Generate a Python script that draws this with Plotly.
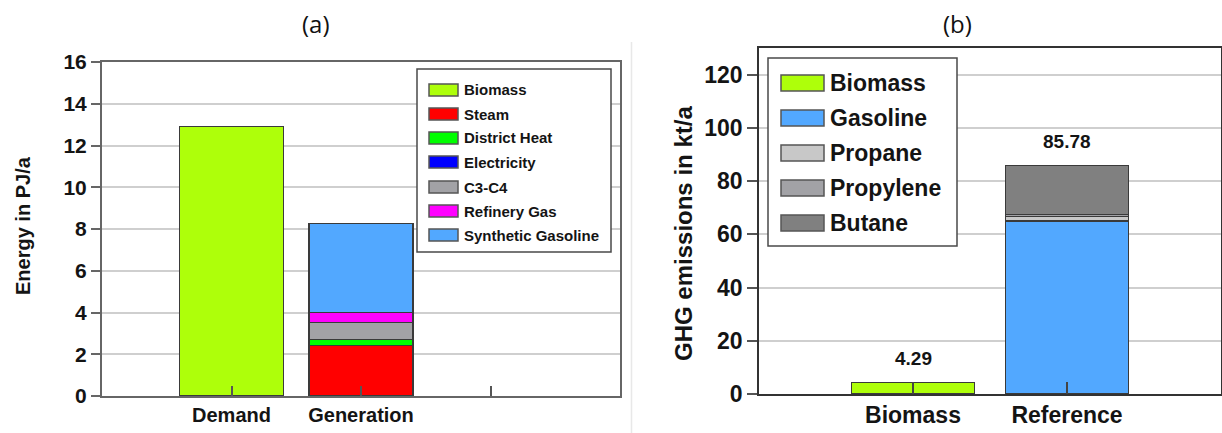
import plotly.graph_objects as go

W, H = 1222, 433

# ---- panel (a): energy balance in PJ/a ----
energy_categories = ["Demand", "Generation", "spare"]
energy_ticktext = ["Demand", "Generation", ""]
biomass_pj = [12.9, None, None]
steam_pj = [None, 2.43, None]
district_heat_pj = [None, 0.27, None]
electricity_pj = [None, 0.0, None]
c3c4_pj = [None, 0.82, None]
refinery_gas_pj = [None, 0.48, None]
synthetic_gasoline_pj = [None, 4.27, None]

energy_names = ["Biomass", "Steam", "District Heat", "Electricity", "C3-C4",
                "Refinery Gas", "Synthetic Gasoline"]
energy_values = [biomass_pj, steam_pj, district_heat_pj, electricity_pj,
                 c3c4_pj, refinery_gas_pj, synthetic_gasoline_pj]
energy_colors = ["#AEFF0A", "#FF0000", "#00FF00", "#0000FF", "#A2A2A6",
                 "#FF00FF", "#52A8FF"]

# ---- panel (b): GHG emissions in kt/a ----
ghg_categories = ["Biomass", "Reference"]
biomass_kt = [4.29, None]
gasoline_kt = [None, 65.0]
propane_kt = [None, 1.6]
propylene_kt = [None, 0.9]
butane_kt = [None, 18.28]

ghg_names = ["Biomass", "Gasoline", "Propane", "Propylene", "Butane"]
ghg_values = [biomass_kt, gasoline_kt, propane_kt, propylene_kt, butane_kt]
ghg_colors = ["#AEFF0A", "#52A8FF", "#C8C8C8", "#A2A2A6", "#808080"]

SANS = "Liberation Sans, Arial, sans-serif"
INK = "#141414"


def px(x):
    return x / W


def py(y):
    return 1 - y / H


fig = go.Figure()

for name, vals, col in zip(energy_names, energy_values, energy_colors):
    fig.add_trace(go.Bar(
        x=energy_categories, y=vals, name=name, showlegend=False,
        marker=dict(color=col, line=dict(color="#3a3a3a", width=1.5)),
        xaxis="x", yaxis="y", width=0.8,
    ))

for name, vals, col in zip(ghg_names, ghg_values, ghg_colors):
    fig.add_trace(go.Bar(
        x=ghg_categories, y=vals, name=name, showlegend=False,
        marker=dict(color=col, line=dict(color="#3a3a3a", width=1.5)),
        xaxis="x2", yaxis="y2", width=0.8,
    ))

shapes = []
annotations = []

# value labels on top of the emission bars
for i, cat in enumerate(ghg_categories):
    total = sum(v[i] for v in ghg_values if v[i] is not None)
    annotations.append(dict(
        x=cat, y=total, xref="x2", yref="y2", text=f"{total:.2f}",
        showarrow=False, yanchor="bottom", yshift=12,
        font=dict(family=SANS, size=19, color=INK, weight="bold"),
    ))


def build_legend(box, names, colors, rows, sw_x, sw_w, sw_h, text_x, font):
    x0, y0, x1, y1 = box
    shapes.append(dict(type="rect", xref="paper", yref="paper",
                       x0=px(x0), x1=px(x1), y0=py(y1), y1=py(y0),
                       line=dict(color="#4a4a4a", width=1.5),
                       fillcolor="white", layer="above"))
    for name, col, yc in zip(names, colors, rows):
        shapes.append(dict(type="rect", xref="paper", yref="paper",
                           x0=px(sw_x), x1=px(sw_x + sw_w),
                           y0=py(yc + sw_h / 2), y1=py(yc - sw_h / 2),
                           fillcolor=col, line=dict(color="#555555", width=1.5),
                           layer="above"))
        annotations.append(dict(
            x=px(text_x), y=py(yc), xref="paper", yref="paper", text=name,
            showarrow=False, xanchor="left", yanchor="middle", font=font,
        ))


build_legend((417, 69, 611, 252), energy_names, energy_colors,
             [90, 114, 138, 162, 187, 211, 235], 429, 29, 12, 462,
             dict(family=SANS, size=15, color=INK, weight="bold"))
build_legend((768, 58, 957, 246), ghg_names, ghg_colors,
             [83, 118, 153, 188, 223], 781, 43, 16, 828,
             dict(family=SANS, size=23, color=INK, weight="bold"))

# axis titles
annotations.append(dict(
    x=px(23), y=py(226), xref="paper", yref="paper", text="Energy in PJ/a",
    textangle=-90, showarrow=False, xanchor="center", yanchor="middle",
    font=dict(family=SANS, size=20, color=INK, weight="bold"),
))
annotations.append(dict(
    x=px(683), y=py(234), xref="paper", yref="paper", text="GHG emissions in kt/a",
    textangle=-90, showarrow=False, xanchor="center", yanchor="middle",
    font=dict(family=SANS, size=24, color=INK, weight="bold"),
))

# panel captions
for label, xc in (("(a)", 316), ("(b)", 957)):
    annotations.append(dict(
        x=px(xc), y=py(24), xref="paper", yref="paper", text=label,
        showarrow=False, xanchor="center", yanchor="middle",
        font=dict(family="Open Sans, sans-serif", size=24, color="#111111"),
    ))

# thin divider between the two panels
shapes.append(dict(type="line", xref="paper", yref="paper",
                   x0=px(631.5), x1=px(631.5), y0=0, y1=py(42),
                   line=dict(color="#e8e8e8", width=1.5)))

fig.update_layout(
    width=W, height=H,
    margin=dict(l=0, r=0, t=0, b=0, autoexpand=False),
    paper_bgcolor="white", plot_bgcolor="white",
    barmode="stack",
    showlegend=False,
    shapes=shapes,
    annotations=annotations,
    xaxis=dict(
        domain=[px(102), px(620)], anchor="y", automargin=False,
        type="category", categoryorder="array", categoryarray=energy_categories,
        range=[-1, 3], tickmode="array", tickvals=energy_categories,
        ticktext=energy_ticktext,
        showline=True, linecolor="#666666", linewidth=2, mirror=True,
        ticks="inside", ticklen=10, tickwidth=1.5, tickcolor="#555555",
        showgrid=False,
        tickfont=dict(family=SANS, size=20, color=INK, weight="bold"),
    ),
    yaxis=dict(
        domain=[py(396), py(62)], anchor="x", automargin=False,
        range=[0, 16], dtick=2,
        showline=True, linecolor="#666666", linewidth=2, mirror=True,
        ticks="outside", ticklen=9, tickwidth=1.5, tickcolor="#666666",
        showgrid=True, gridcolor="#CFCFCF", gridwidth=1.5, zeroline=False,
        tickfont=dict(family=SANS, size=21, color=INK, weight="bold"),
    ),
    xaxis2=dict(
        domain=[px(759), px(1221)], anchor="y2", automargin=False,
        type="category", categoryorder="array", categoryarray=ghg_categories,
        range=[-1, 2],
        showline=True, linecolor="#333333", linewidth=1.5, mirror=True,
        ticks="inside", ticklen=12, tickwidth=1.5, tickcolor="#444444",
        showgrid=False,
        tickfont=dict(family=SANS, size=23, color=INK, weight="bold"),
    ),
    yaxis2=dict(
        domain=[py(394), py(48)], anchor="x2", automargin=False,
        range=[0, 130], tickvals=[0, 20, 40, 60, 80, 100, 120],
        showline=True, linecolor="#333333", linewidth=1.5, mirror=True,
        ticks="outside", ticklen=10, tickwidth=1.5, tickcolor="#555555",
        showgrid=True, gridcolor="#CFCFCF", gridwidth=1.5, zeroline=False,
        tickfont=dict(family=SANS, size=23, color=INK, weight="bold"),
    ),
)

fig.write_html("out.html")
